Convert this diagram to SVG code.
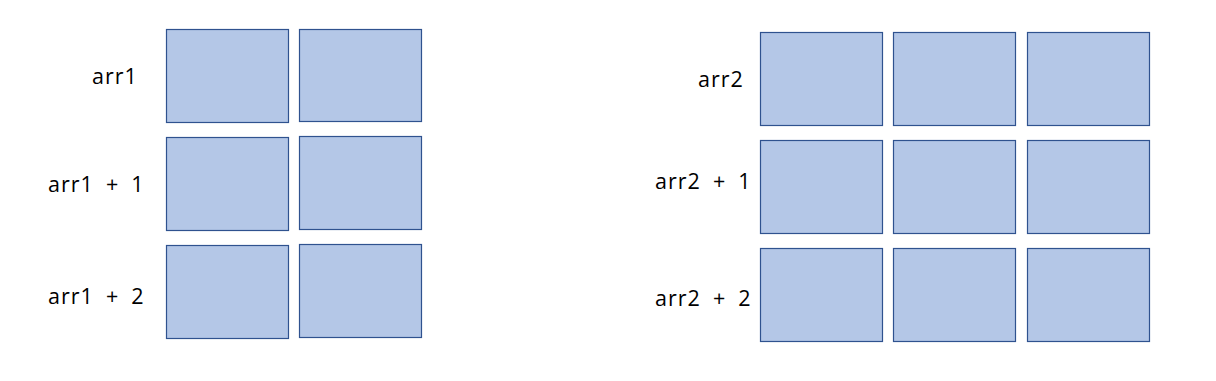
<svg xmlns="http://www.w3.org/2000/svg" width="1216" height="381" viewBox="0 0 1216 381">
<style>
.cell{fill:#B4C7E7;stroke:#2F528F;stroke-width:1.2}
.lbl{font-family:"Open Sans","Noto Sans","Liberation Sans",sans-serif;font-size:21.5px;fill:#000;letter-spacing:1px;word-spacing:5.5px}
</style>
<rect width="1216" height="381" fill="#fff"/>
<g id="arr1">
<rect class="cell" x="166.5" y="29.5" width="122" height="93"/>
<rect class="cell" x="299.5" y="29.5" width="122" height="92"/>
<text class="lbl" x="92" y="84">arr1</text>
</g>
<g id="arr1-plus-1">
<rect class="cell" x="166.5" y="137.5" width="122" height="93"/>
<rect class="cell" x="299.5" y="136.5" width="122" height="93"/>
<text class="lbl" x="48" y="192">arr1 + 1</text>
</g>
<g id="arr1-plus-2">
<rect class="cell" x="166.5" y="245.5" width="122" height="93"/>
<rect class="cell" x="299.5" y="244.5" width="122" height="93"/>
<text class="lbl" x="48" y="304">arr1 + 2</text>
</g>
<g id="arr2">
<rect class="cell" x="760.5" y="32.5" width="122" height="93"/>
<rect class="cell" x="893.5" y="32.5" width="122" height="93"/>
<rect class="cell" x="1027.5" y="32.5" width="122" height="93"/>
<text class="lbl" x="698" y="86.5">arr2</text>
</g>
<g id="arr2-plus-1">
<rect class="cell" x="760.5" y="140.5" width="122" height="93"/>
<rect class="cell" x="893.5" y="140.5" width="122" height="93"/>
<rect class="cell" x="1027.5" y="140.5" width="122" height="93"/>
<text class="lbl" x="655" y="188.5">arr2 + 1</text>
</g>
<g id="arr2-plus-2">
<rect class="cell" x="760.5" y="248.5" width="122" height="93"/>
<rect class="cell" x="893.5" y="248.5" width="122" height="93"/>
<rect class="cell" x="1027.5" y="248.5" width="122" height="93"/>
<text class="lbl" x="655" y="306">arr2 + 2</text>
</g>
<g id="connectors"/>
</svg>
